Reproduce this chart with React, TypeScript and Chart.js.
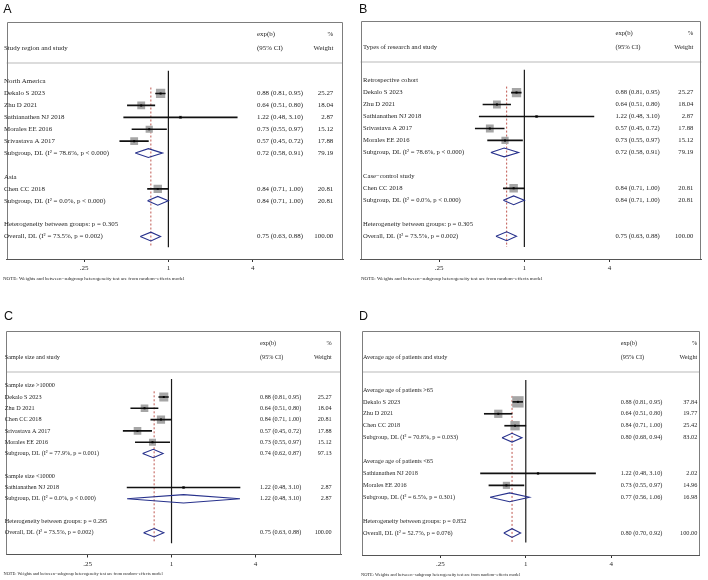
import React, { useEffect, useRef } from "react";
import { Chart, registerables } from "chart.js";

Chart.register(...registerables);

// ---------- shared labels ----------
const xTickValues = [0.25, 1, 4];
const xTickLabels = [".25", "1", "4"];
const noteText =
  "NOTE: Weights and between\u2212subgroup heterogeneity test are from random\u2212effects model";

// ---------- Panel A: study region ----------
const titleA = "Study region and study";
const rowsA = [
  "North America",
  "Dekalo S 2023",
  "Zhu D 2021",
  "Sathianathen NJ 2018",
  "Morales EE 2016",
  "Srivastava A 2017",
  "Subgroup, DL (I\u00b2 = 78.6%, p < 0.000)",
  "",
  "Asia",
  "Chen CC 2018",
  "Subgroup, DL (I\u00b2 = 0.0%, p < 0.000)",
  "",
  "Heterogeneity between groups: p = 0.305",
  "Overall, DL (I\u00b2 = 73.5%, p = 0.002)",
];
const kindA = ["g", "s", "s", "s", "s", "s", "d", "", "g", "s", "d", "", "h", "d"];
const estA = [null, 0.88, 0.64, 1.22, 0.73, 0.57, 0.72, null, null, 0.84, 0.84, null, null, 0.75];
const lowA = [null, 0.81, 0.51, 0.48, 0.55, 0.45, 0.58, null, null, 0.71, 0.71, null, null, 0.63];
const highA = [null, 0.95, 0.8, 3.1, 0.97, 0.72, 0.91, null, null, 1.0, 1.0, null, null, 0.88];
const weightA = [null, 25.27, 18.04, 2.87, 15.12, 17.88, 79.19, null, null, 20.81, 20.81, null, null, 100.0];

// ---------- Panel B: type of research ----------
const titleB = "Types of research and study";
const rowsB = [
  "Retrospective cohort",
  "Dekalo S 2023",
  "Zhu D 2021",
  "Sathianathen NJ 2018",
  "Srivastava A 2017",
  "Morales EE 2016",
  "Subgroup, DL (I\u00b2 = 78.6%, p < 0.000)",
  "",
  "Case\u2212control study",
  "Chen CC 2018",
  "Subgroup, DL (I\u00b2 = 0.0%, p < 0.000)",
  "",
  "Heterogeneity between groups: p = 0.305",
  "Overall, DL (I\u00b2 = 73.5%, p = 0.002)",
];
const kindB = ["g", "s", "s", "s", "s", "s", "d", "", "g", "s", "d", "", "h", "d"];
const estB = [null, 0.88, 0.64, 1.22, 0.57, 0.73, 0.72, null, null, 0.84, 0.84, null, null, 0.75];
const lowB = [null, 0.81, 0.51, 0.48, 0.45, 0.55, 0.58, null, null, 0.71, 0.71, null, null, 0.63];
const highB = [null, 0.95, 0.8, 3.1, 0.72, 0.97, 0.91, null, null, 1.0, 1.0, null, null, 0.88];
const weightB = [null, 25.27, 18.04, 2.87, 17.88, 15.12, 79.19, null, null, 20.81, 20.81, null, null, 100.0];

// ---------- Panel C: sample size ----------
const titleC = "Sample size and study";
const rowsC = [
  "Sample size >10000",
  "Dekalo S 2023",
  "Zhu D 2021",
  "Chen CC 2018",
  "Srivastava A 2017",
  "Morales EE 2016",
  "Subgroup, DL (I\u00b2 = 77.9%, p = 0.001)",
  "",
  "Sample size <10000",
  "Sathianathen NJ 2018",
  "Subgroup, DL (I\u00b2 = 0.0%, p < 0.000)",
  "",
  "Heterogeneity between groups: p = 0.295",
  "Overall, DL (I\u00b2 = 73.5%, p = 0.002)",
];
const kindC = ["g", "s", "s", "s", "s", "s", "d", "", "g", "s", "d", "", "h", "d"];
const estC = [null, 0.88, 0.64, 0.84, 0.57, 0.73, 0.74, null, null, 1.22, 1.22, null, null, 0.75];
const lowC = [null, 0.81, 0.51, 0.71, 0.45, 0.55, 0.62, null, null, 0.48, 0.48, null, null, 0.63];
const highC = [null, 0.95, 0.8, 1.0, 0.72, 0.97, 0.87, null, null, 3.1, 3.1, null, null, 0.88];
const weightC = [null, 25.27, 18.04, 20.81, 17.88, 15.12, 97.13, null, null, 2.87, 2.87, null, null, 100.0];

// ---------- Panel D: average age ----------
const titleD = "Average age of patients and study";
const rowsD = [
  "Average age of patients >65",
  "Dekalo S 2023",
  "Zhu D 2021",
  "Chen CC 2018",
  "Subgroup, DL (I\u00b2 = 70.8%, p = 0.033)",
  "",
  "Average age of patients <65",
  "Sathianathen NJ 2018",
  "Morales EE 2016",
  "Subgroup, DL (I\u00b2 = 6.5%, p = 0.301)",
  "",
  "Heterogeneity between groups: p = 0.852",
  "Overall, DL (I\u00b2 = 52.7%, p = 0.076)",
];
const kindD = ["g", "s", "s", "s", "d", "", "g", "s", "s", "d", "", "h", "d"];
const estD = [null, 0.88, 0.64, 0.84, 0.8, null, null, 1.22, 0.73, 0.77, null, null, 0.8];
const lowD = [null, 0.81, 0.51, 0.71, 0.68, null, null, 0.48, 0.55, 0.56, null, null, 0.7];
const highD = [null, 0.95, 0.8, 1.0, 0.94, null, null, 3.1, 0.97, 1.06, null, null, 0.92];
const weightD = [null, 37.84, 19.77, 25.42, 83.02, null, null, 2.02, 14.96, 16.98, null, null, 100.0];

// ---------- layout (pixels inside each 354x290 panel) ----------
type Geo = {
  boxL: number; boxR: number; boxT: number; boxB: number;
  nullX: number; k: number; row0: number; pitch: number;
  labelX: number; ciX: number; wR: number; font: number;
  noteFont: number; noteX: number; letterX: number; letterBase: number;
  boxScale: number;
};
const geoA: Geo = { boxL: 2, boxR: 343, boxT: 22, boxB: 259, nullX: 166, k: 42.75, row0: 75, pitch: 13.25,
  labelX: 4, ciX: 257, wR: 333.3, font: 6.9, noteFont: 5, noteX: 3, letterX: 3.3, letterBase: 13.3, boxScale: 1.85 };
const geoB: Geo = { boxL: 6, boxR: 350, boxT: 21, boxB: 259, nullX: 171.3, k: 43, row0: 74, pitch: 13.3,
  labelX: 9, ciX: 261.5, wR: 339.3, font: 6.65, noteFont: 5, noteX: 7, letterX: 5, letterBase: 13.3, boxScale: 1.85 };
const geoC: Geo = { boxL: 2, boxR: 341, boxT: 41, boxB: 264.5, nullX: 169.3, k: 42.5, row0: 89.3, pitch: 12.57,
  labelX: 4.7, ciX: 260, wR: 331.7, font: 6.2, noteFont: 4.4, noteX: 3.5, letterX: 4, letterBase: 30, boxScale: 1.8 };
const geoD: Geo = { boxL: 6, boxR: 350, boxT: 41, boxB: 265, nullX: 172.7, k: 43.5, row0: 93.3, pitch: 13.42,
  labelX: 9, ciX: 266.7, wR: 343.3, font: 6.25, noteFont: 4.4, noteX: 7, letterX: 5, letterBase: 30, boxScale: 1.85 };

type Num = number | null;
type PanelProps = {
  letter: string; title: string; rows: string[]; kind: string[];
  est: Num[]; low: Num[]; high: Num[]; weight: Num[]; geo: Geo;
};

const W = 354;
const H = 290;
const SERIF = '"Liberation Serif", "Times New Roman", serif';
const NAVY = "#27318c";

function ForestPanel(p: PanelProps) {
  const ref = useRef<HTMLCanvasElement | null>(null);

  useEffect(() => {
    if (!ref.current) return;
    const g = p.geo;
    const tickFont = 7;
    const tickLen = 3;
    const tickPad = 2;
    const axisH = tickLen + tickFont * 1.2 + 2 * tickPad;
    const yMin = (g.boxT - g.row0) / g.pitch;
    const yMax = (g.boxB - g.row0) / g.pitch;
    const xMin = Math.pow(2, (g.boxL - g.nullX) / g.k);
    const xMax = Math.pow(2, (g.boxR - g.nullX) / g.k);
    const dividerOff = 41;
    const dividerRow = yMin + dividerOff / g.pitch;
    const n = p.rows.length;
    const overall = p.est[n - 1] as number;
    const halfH = 0.37;

    const studyIdx = p.kind.map((k, i) => (k === "s" ? i : -1)).filter((i) => i >= 0);
    const diamondIdx = p.kind.map((k, i) => (k === "d" ? i : -1)).filter((i) => i >= 0);

    const datasets: any[] = [];
    datasets.push({
      type: "line",
      data: [{ x: 1, y: dividerRow }, { x: 1, y: yMax }],
      borderColor: "#1a1a1a",
      borderWidth: 1.2,
      pointRadius: 0,
      order: 10,
    });
    datasets.push({
      type: "line",
      data: [{ x: overall, y: 0.5 }, { x: overall, y: yMax }],
      borderColor: "#b8443c",
      borderWidth: 0.9,
      borderDash: [2, 2],
      pointRadius: 0,
      order: 9,
    });
    datasets.push({
      type: "scatter",
      data: studyIdx.map((i) => ({ x: p.est[i], y: i, w: p.weight[i] })),
      pointStyle: "rect",
      backgroundColor: "#a6a6a6",
      borderWidth: 0,
      pointRadius: (c: any) => (g.boxScale * Math.sqrt(c.raw.w)) / Math.SQRT2,
      order: 8,
    });
    datasets.push({
      type: "bar",
      indexAxis: "y",
      data: studyIdx.map((i) => ({ y: i, x: [p.low[i], p.high[i]] })),
      backgroundColor: "#111",
      borderWidth: 0,
      barThickness: 1,
      order: 7,
    });
    datasets.push({
      type: "scatter",
      data: studyIdx.map((i) => ({ x: p.est[i], y: i })),
      pointStyle: "rect",
      backgroundColor: "#000",
      borderWidth: 0,
      pointRadius: 1.4,
      order: 6,
    });
    diamondIdx.forEach((i) => {
      const lo = p.low[i] as number;
      const hi = p.high[i] as number;
      const e = p.est[i] as number;
      datasets.push({
        type: "line",
        data: [
          { x: lo, y: i },
          { x: e, y: i - halfH },
          { x: hi, y: i },
          { x: e, y: i + halfH },
          { x: lo, y: i },
        ],
        borderColor: NAVY,
        borderWidth: 1.1,
        pointRadius: 0,
        fill: false,
        tension: 0,
        order: 1,
      });
    });

    const textPlugin = {
      id: "forestText",
      beforeDatasetsDraw(chart: any) {
        const { ctx, chartArea: a } = chart;
        ctx.save();
        ctx.strokeStyle = "#dcdcdc";
        ctx.lineWidth = 2;
        ctx.beginPath();
        ctx.moveTo(a.left, a.top + dividerOff);
        ctx.lineTo(a.right, a.top + dividerOff);
        ctx.stroke();
        ctx.restore();
      },
      afterDraw(chart: any) {
        const { ctx, chartArea: a } = chart;
        const ys = chart.scales.y;
        ctx.save();
        // frame (top, left, right)
        ctx.strokeStyle = "#7d7d7d";
        ctx.lineWidth = 1;
        ctx.beginPath();
        ctx.moveTo(Math.round(a.left) + 0.5, a.bottom);
        ctx.lineTo(Math.round(a.left) + 0.5, Math.round(a.top) + 0.5);
        ctx.lineTo(Math.round(a.right) - 0.5, Math.round(a.top) + 0.5);
        ctx.lineTo(Math.round(a.right) - 0.5, a.bottom);
        ctx.stroke();

        ctx.fillStyle = "#1e1e1e";
        ctx.font = `${g.font}px ${SERIF}`;
        ctx.textBaseline = "middle";
        ctx.textAlign = "left";
        ctx.fillText(p.title, g.labelX, a.top + 26);
        ctx.fillText("exp(b)", g.ciX, a.top + 12.5);
        ctx.fillText("(95% CI)", g.ciX, a.top + 26);
        ctx.textAlign = "right";
        ctx.fillText("%", g.wR, a.top + 12.5);
        ctx.fillText("Weight", g.wR, a.top + 26);

        p.rows.forEach((label, i) => {
          const y = ys.getPixelForValue(i);
          ctx.textAlign = "left";
          if (label) ctx.fillText(label, g.labelX, y);
          const e = p.est[i];
          if (e != null) {
            const txt = `${e.toFixed(2)} (${(p.low[i] as number).toFixed(2)}, ${(p.high[i] as number).toFixed(2)})`;
            ctx.fillText(txt, g.ciX, y);
            ctx.textAlign = "right";
            ctx.fillText((p.weight[i] as number).toFixed(2), g.wR, y);
          }
        });

        ctx.textAlign = "left";
        ctx.font = `${g.noteFont}px ${SERIF}`;
        ctx.fillText(noteText, g.noteX, a.bottom + 19.5);

        ctx.font = '12.5px "Liberation Sans", Arial, sans-serif';
        ctx.textBaseline = "alphabetic";
        ctx.fillStyle = "#111";
        ctx.fillText(p.letter, g.letterX, g.letterBase);
        ctx.restore();
      },
    };

    const chart = new Chart(ref.current, {
      type: "scatter",
      data: { datasets },
      options: {
        responsive: false,
        animation: false,
        devicePixelRatio: 1,
        events: [],
        layout: {
          padding: {
            left: g.boxL,
            right: W - g.boxR,
            top: g.boxT,
            bottom: H - g.boxB - axisH,
          },
        },
        plugins: {
          legend: { display: false },
          tooltip: { enabled: false },
          title: { display: false },
        },
        scales: {
          x: {
            type: "logarithmic",
            min: xMin,
            max: xMax,
            position: "bottom",
            afterBuildTicks: (axis: any) => {
              axis.ticks = xTickValues.map((v) => ({ value: v }));
            },
            ticks: {
              autoSkip: false,
              maxRotation: 0,
              padding: tickPad,
              color: "#1e1e1e",
              font: { family: SERIF, size: tickFont },
              callback: (v: any) => {
                const idx = xTickValues.indexOf(Number(v));
                return idx >= 0 ? xTickLabels[idx] : "";
              },
            },
            grid: {
              display: true,
              drawOnChartArea: false,
              drawTicks: true,
              tickLength: tickLen,
              color: "#333",
            },
            border: { display: true, color: "#555", width: 1 },
          },
          y: {
            type: "linear",
            min: yMin,
            max: yMax,
            reverse: true,
            display: false,
          },
        },
      } as any,
      plugins: [textPlugin],
    });
    return () => chart.destroy();
  }, []);

  return <canvas ref={ref} width={W} height={H} style={{ display: "block", width: W, height: H }} />;
}

export default function App() {
  const cell = (left: number, top: number): React.CSSProperties => ({
    position: "absolute",
    left,
    top,
    width: W,
    height: H,
  });
  return (
    <div style={{ position: "absolute", left: 0, top: 0, width: 708, height: 580, background: "#fff" }}>
      <div style={cell(0, 0)}>
        <ForestPanel letter="A" title={titleA} rows={rowsA} kind={kindA} est={estA} low={lowA} high={highA} weight={weightA} geo={geoA} />
      </div>
      <div style={cell(354, 0)}>
        <ForestPanel letter="B" title={titleB} rows={rowsB} kind={kindB} est={estB} low={lowB} high={highB} weight={weightB} geo={geoB} />
      </div>
      <div style={cell(0, 290)}>
        <ForestPanel letter="C" title={titleC} rows={rowsC} kind={kindC} est={estC} low={lowC} high={highC} weight={weightC} geo={geoC} />
      </div>
      <div style={cell(354, 290)}>
        <ForestPanel letter="D" title={titleD} rows={rowsD} kind={kindD} est={estD} low={lowD} high={highD} weight={weightD} geo={geoD} />
      </div>
    </div>
  );
}
